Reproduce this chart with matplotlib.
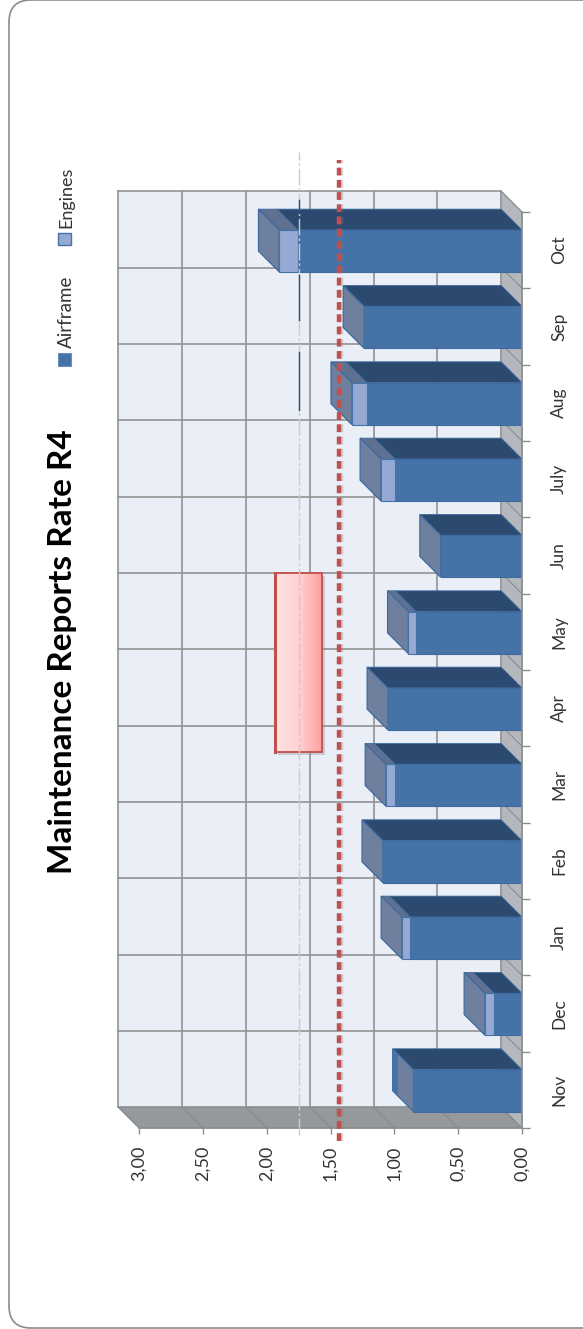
import numpy as np
import matplotlib
matplotlib.use('Agg')
from matplotlib import pyplot as plt
from matplotlib.patches import Polygon, Rectangle, FancyBboxPatch

plt.rcParams['font.family'] = ['Lato', 'DejaVu Sans']

months = ['Nov', 'Dec', 'Jan', 'Feb', 'Mar', 'Apr', 'May', 'Jun', 'July', 'Aug', 'Sep', 'Oct']
airframe = [0.85, 0.22, 0.875, 1.09, 0.995, 1.05, 0.83, 0.637, 0.995, 1.216, 1.237, 1.756]
engines = [0.0, 0.07, 0.065, 0.0, 0.07, 0.0, 0.06, 0.0, 0.11, 0.117, 0.0, 0.145]
value_ticks = [0.0, 0.5, 1.0, 1.5, 2.0, 2.5, 3.0]
limit_line = 1.43
mean_line = 1.745
# the dark bits of the thin line, seen over Oct/Sep/Aug
dark_bits = [(11.99, 12.16), (10.59, 11.17), (9.41, 10.17)]
box_values = (1.566, 1.934)
box_months = (4.93, 7.27)

W, H = 583, 1329
dv = 0.163    # depth of the fake 3d, in value units
dc = 0.2725   # same, in category units
bar_h = 0.55

fig = plt.figure(figsize=(W / 100, H / 100), dpi=100)

# frame and texts, pixel coords
bg = fig.add_axes([0, 0, 1, 1])
bg.set_xlim(0, W)
bg.set_ylim(H, 0)
bg.axis('off')
bg.add_patch(FancyBboxPatch((9, 0), 600, H - 1, boxstyle='round,pad=0,rounding_size=22',
                            fc='white', ec='#8c8c8c', lw=1.2, clip_on=False))
bg.text(63, 652, 'Maintenance Reports Rate R4', rotation=90, ha='center', va='center',
        fontsize=24, fontweight='bold', color='black')
bg.add_patch(Rectangle((58, 353), 13, 13, fc='#4572a7', ec='#6d8fbc', lw=0.8))
bg.add_patch(Rectangle((58, 233), 13, 12, fc='#95a9d3', ec='#4572a7', lw=1))
bg.text(66, 312, 'Airframe', rotation=90, ha='center', va='center', fontsize=13.5, color='#333333')
bg.text(66, 197, 'Engines', rotation=90, ha='center', va='center', fontsize=13, color='#333333')

ax = fig.add_axes([139 / W, 1 - 1128 / H, (522 - 139) / W, (1128 - 212) / H])
ax.patch.set_visible(False)

grid_c = '#929292'

# back wall
ax.add_patch(Rectangle((dv, dc), 3, 12, fc='#e9eef7', ec='none', clip_on=False, zorder=1))
for v in value_ticks:
    ax.plot([v + dv, v + dv], [dc, 12 + dc], color=grid_c, lw=1.2, clip_on=False, zorder=1.2)
for c in range(13):
    ax.plot([dv, 3 + dv], [c + dc, c + dc], color=grid_c, lw=1.2, clip_on=False, zorder=1.2)

# floor and side wall
ax.add_patch(Polygon([(0, 0), (3, 0), (3 + dv, dc), (dv, dc)], fc='#96999c', ec='#8a8d90', lw=0.6,
                     clip_on=False, zorder=1.5))
ax.add_patch(Polygon([(0, 0), (dv, dc), (dv, 12 + dc), (0, 12)], fc='#b4b8bd', ec='#8a8d90', lw=0.6,
                     clip_on=False, zorder=1.6))
for v in value_ticks:
    ax.plot([v, v + dv], [0, dc], color='#85888b', lw=0.7, clip_on=False, zorder=1.7)
for c in range(1, 13):
    ax.plot([0, dv], [c, c + dc], color='#85888b', lw=0.7, clip_on=False, zorder=1.7)

# pink box
grad = np.linspace(0, 1, 64).reshape(1, -1)
cmap = matplotlib.colors.LinearSegmentedColormap.from_list('pink', ['#ffe2e2', '#ffd2d2', '#ffa0a0'])
ax.add_patch(Rectangle((box_values[0] - 0.02, box_months[0] - 0.04), box_values[1] - box_values[0],
                       box_months[1] - box_months[0], fc='#8a8a8a', alpha=0.35, ec='none', zorder=2))
ax.imshow(grad, extent=(box_values[1], box_values[0], box_months[0], box_months[1]), cmap=cmap,
          aspect='auto', zorder=2.1)
ax.add_patch(Rectangle((box_values[0], box_months[0]), box_values[1] - box_values[0],
                       box_months[1] - box_months[0], fc='none', ec='#c0504d', lw=1.3, zorder=2.2))
ax.plot([box_values[1], box_values[1]], box_months, color='#c0504d', lw=2.2, zorder=2.3)

# bars, front faces through barh
y = np.arange(12) + 0.49
total = np.array(airframe) + np.array(engines)
ax.barh(y, airframe, height=bar_h, color='#4572a7', edgecolor='#3d6a9f', lw=0.8, zorder=4)
ax.barh(y, engines, left=airframe, height=bar_h, color='#95a9d3', edgecolor='#4572a7', lw=0.8, zorder=4)

for i in range(12):
    top = y[i] + bar_h / 2
    bot = y[i] - bar_h / 2
    a = airframe[i]
    t = total[i]
    ax.add_patch(Polygon([(0, top), (a, top), (a + dv, top + dc), (dv, top + dc)], fc='#2c4a70',
                         ec='#3d6a9f', lw=0.6, clip_on=False, zorder=3.5))
    if engines[i] > 0:
        ax.add_patch(Polygon([(a, top), (t, top), (t + dv, top + dc), (a + dv, top + dc)], fc='#5f7090',
                             ec='#3d6a9f', lw=0.6, clip_on=False, zorder=3.5))
    ax.add_patch(Polygon([(t, bot), (t, top), (t + dv, top + dc), (t + dv, bot + dc)], fc='#6f7f9e',
                         ec='#3d6a9f', lw=0.9, clip_on=False, zorder=3.6))

# Nov end face has a blue strip on its outer side
ax.add_patch(Polygon([(total[0] + dv, y[0] - bar_h / 2 + dc), (total[0] + dv, y[0] + bar_h / 2 + dc),
                      (total[0] + dv - 0.04, y[0] + bar_h / 2 + dc - 0.07), (total[0] + dv - 0.04, y[0] - bar_h / 2 + dc - 0.07)],
                     fc='#4572a7', ec='none', clip_on=False, zorder=3.7))

# reference lines
ax.plot([mean_line, mean_line], [-0.09, 12.79], color='#cccccc', lw=1, ls=(0, (12, 2, 2, 2)),
        clip_on=False, zorder=5)
for lo, hi in dark_bits:
    ax.plot([mean_line, mean_line], [lo, hi], color='#2c4a70', lw=1, clip_on=False, zorder=5.1)
ax.plot([limit_line - 0.016, limit_line - 0.016], [-0.17, 12.68], color='#808080', alpha=0.3, lw=3.2,
        ls=(0, (1.75, 1.0)), dash_capstyle='butt', clip_on=False, zorder=5.9)
ax.plot([limit_line, limit_line], [-0.17, 12.68], color='#c0504d', lw=3.2,
        ls=(0, (1.75, 1.0)), dash_capstyle='butt', clip_on=False, zorder=6)

# axes
ax.set_xlim(3, 0)
ax.set_ylim(0, 12)
ax.set_xticks(value_ticks)
for s in ['left', 'top']:
    ax.spines[s].set_visible(False)
for s in ['bottom', 'right']:
    ax.spines[s].set_color('#8c8c8c')
    ax.spines[s].set_zorder(4.5)
    ax.spines[s].set_linewidth(1.2)
ax.set_xticklabels([('%.2f' % v).replace('.', ',') for v in value_ticks])
ax.yaxis.tick_right()
ax.set_yticks(range(13))
ax.set_yticklabels([])
ax.set_yticks(np.arange(12) + 0.5, labels=months, minor=True)
ax.tick_params(axis='y', which='major', length=6, color='#8c8c8c', width=1)
ax.tick_params(axis='y', which='minor', length=0, pad=21)
ax.tick_params(axis='x', length=4, color='#8c8c8c', width=1, pad=8.5)
for t in ax.get_xticklabels():
    t.set_rotation(90)
    t.set_ha('center')
    t.set_fontsize(13)
    t.set_color('#333333')
for t in ax.get_yticklabels(minor=True):
    t.set_rotation(90)
    t.set_va('center')
    t.set_ha('left')
    t.set_fontsize(12.5)
    t.set_color('#333333')

fig.savefig('out.png', dpi=100)
